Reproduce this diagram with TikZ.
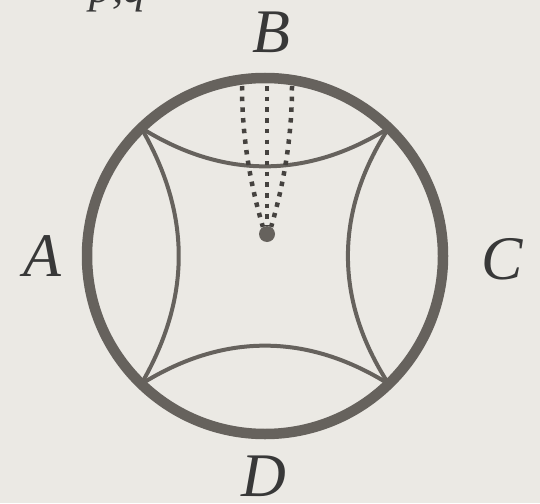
\documentclass[tikz,border=0pt]{standalone}
\usepackage{fontspec}
\setmainfont{Liberation Serif}
\definecolor{paper}{HTML}{EBE9E4}
\definecolor{rim}{HTML}{66625D}
\definecolor{ink}{HTML}{383838}
\definecolor{dotgray}{HTML}{45423F}

\begin{document}
\begin{tikzpicture}[x=1pt, y=-1pt,
	lbl/.style={font=\fontsize{62}{62}\selectfont\itshape, text=ink, inner sep=0pt},
	thinarc/.style={rim, line width=4pt},
	dotline/.style={dotgray, line width=4.5pt, dash pattern=on 4.5pt off 6.2pt}]
	\fill[paper] (0,0) rectangle (540,503);
	\useasboundingbox (0,0) rectangle (540,503);
	% outer disk and its four corners
	\node[circle, draw=rim, line width=10.5pt, minimum size=356pt, inner sep=0pt] (disk) at (265,256) {};
	\coordinate (tl) at (141.3,128);
	\coordinate (tr) at (388.7,128);
	\coordinate (bl) at (141.3,384);
	\coordinate (br) at (388.7,384);
	\draw[thinarc] (tl) to[bend right=32] (tr);
	\draw[thinarc] (bl) to[bend left=32] (br);
	\draw[thinarc] (tl) to[bend left=30] (bl);
	\draw[thinarc] (tr) to[bend right=33] (br);
	% point and the dotted strands
	\node[circle, fill=rim, minimum size=16pt, inner sep=0pt] (pt) at (267,234) {};
	\coordinate (sl) at (242,86);
	\coordinate (sm) at (267,86);
	\coordinate (sr) at (292,86);
	\draw[dotline] (sm) -- (pt.north);
	\draw[dotline] (sl) .. controls (242,150) and (255,200) .. (pt.120);
	\draw[dotline] (sr) .. controls (292,150) and (279,200) .. (pt.60);
	% labels
	\node[lbl] (B) at (271,32) {B};
	\node[lbl] (A) at (42,256) {A};
	\node[lbl] (C) at (502,259) {C};
	\node[lbl] (D) at (264,476) {D};
	\node[font=\fontsize{45}{45}\selectfont\itshape, text=ink, inner sep=0pt, anchor=base] (pq) at (118,3) {p,q};
\end{tikzpicture}
\end{document}
